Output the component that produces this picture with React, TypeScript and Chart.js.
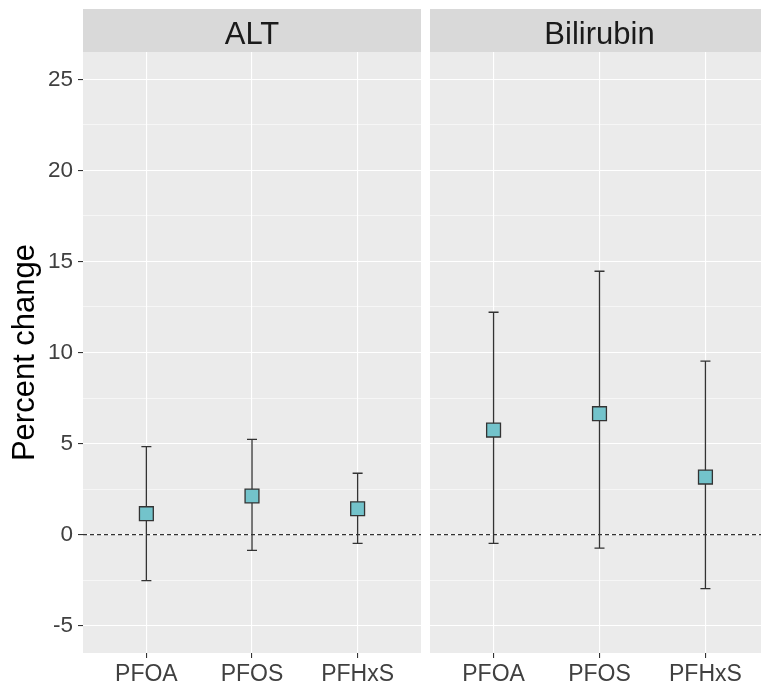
import React, { useEffect, useRef } from "react";
import { Chart, registerables } from "chart.js";

Chart.register(...registerables);

const categories = ["PFOA", "PFOS", "PFHxS"];
const panelLabels = ["ALT", "Bilirubin"];

const altEstimate = [1.15, 2.12, 1.42];
const altLower = [-2.53, -0.86, -0.48];
const altUpper = [4.83, 5.23, 3.37];

const biliEstimate = [5.74, 6.64, 3.16];
const biliLower = [-0.48, -0.74, -2.97];
const biliUpper = [12.21, 14.46, 9.53];

const yTicks = [-5, -2.5, 0, 2.5, 5, 7.5, 10, 12.5, 15, 17.5, 20, 22.5, 25];
const yMin = -6.5;
const yMax = 26.5;
const referenceLine = 0;

const FONT = '"Liberation Sans", Arial, sans-serif';

function makeFacetPlugin(label: string, lower: number[], upper: number[]) {
  return {
    id: "facet",
    beforeDraw(chart: any) {
      const { ctx, chartArea: a } = chart;
      ctx.save();
      ctx.fillStyle = "#EBEBEB";
      ctx.fillRect(a.left, a.top, a.right - a.left, a.bottom - a.top);
      ctx.fillStyle = "#D9D9D9";
      ctx.fillRect(a.left, a.top - 43, a.right - a.left, 43);
      ctx.fillStyle = "#1A1A1A";
      ctx.font = "31px " + FONT;
      ctx.textAlign = "center";
      ctx.textBaseline = "alphabetic";
      ctx.fillText(label, (a.left + a.right) / 2, a.top - 8.5);
      ctx.restore();
    },
    beforeDatasetsDraw(chart: any) {
      const { ctx, chartArea: a, scales } = chart;
      const x = scales.x;
      const y = scales.y;
      ctx.save();
      const y0 = y.getPixelForValue(referenceLine);
      ctx.strokeStyle = "#333333";
      ctx.lineWidth = 1.1;
      ctx.setLineDash([4, 3]);
      ctx.beginPath();
      ctx.moveTo(a.left, y0);
      ctx.lineTo(a.right, y0);
      ctx.stroke();
      ctx.setLineDash([]);
      ctx.lineWidth = 1.3;
      lower.forEach((lo, i) => {
        const px = x.getPixelForValue(i + 1);
        const pl = y.getPixelForValue(lo);
        const pu = y.getPixelForValue(upper[i]);
        ctx.beginPath();
        ctx.moveTo(px, pl);
        ctx.lineTo(px, pu);
        ctx.moveTo(px - 5, pl);
        ctx.lineTo(px + 5, pl);
        ctx.moveTo(px - 5, pu);
        ctx.lineTo(px + 5, pu);
        ctx.stroke();
      });
      ctx.restore();
    },
  };
}

function makeConfig(
  label: string,
  est: number[],
  lower: number[],
  upper: number[],
  showY: boolean
): any {
  return {
    type: "scatter",
    data: {
      datasets: [
        {
          data: est.map((v, i) => ({ x: i + 1, y: v })),
          pointStyle: "rect",
          pointRadius: 9.8,
          pointHoverRadius: 9.8,
          backgroundColor: "#73C3CB",
          borderColor: "#333333",
          borderWidth: 1.3,
        },
      ],
    },
    options: {
      responsive: false,
      animation: false,
      events: [],
      layout: {
        autoPadding: false,
        padding: { top: 52, left: 0, right: showY ? 4 : 0, bottom: 0 },
      },
      plugins: { legend: { display: false }, tooltip: { enabled: false } },
      scales: {
        x: {
          type: "linear",
          min: 0.4,
          max: 3.6,
          afterBuildTicks: (s: any) => {
            s.ticks = categories.map((_, i) => ({ value: i + 1 }));
          },
          afterFit: (s: any) => {
            s.height = 31;
            s.paddingLeft = 0;
            s.paddingRight = 0;
          },
          ticks: {
            callback: (_v: any, i: number) => categories[i],
            font: { family: FONT, size: 23 },
            color: "#404040",
            padding: 3,
            maxRotation: 0,
            autoSkip: false,
          },
          grid: {
            color: "#FFFFFF",
            lineWidth: 1.1,
            tickColor: "#333333",
            tickLength: 5,
          },
          border: { display: false },
        },
        y: {
          type: "linear",
          min: yMin,
          max: yMax,
          afterBuildTicks: (s: any) => {
            s.ticks = yTicks.map((v) => ({ value: v }));
          },
          afterFit: (s: any) => {
            s.width = showY ? 83 : 0;
            s.paddingTop = 0;
            s.paddingBottom = 0;
          },
          ticks: {
            display: showY,
            callback: (v: any) => (v % 5 === 0 ? String(v) : ""),
            font: { family: FONT, size: 22.5 },
            color: "#404040",
            padding: 5,
          },
          grid: {
            color: "#FFFFFF",
            lineWidth: (c: any) => (c.tick && c.tick.value % 5 === 0 ? 1.1 : 0.55),
            tickColor: (c: any) =>
              showY && c.tick && c.tick.value % 5 === 0 ? "#333333" : "rgba(0,0,0,0)",
            tickLength: showY ? 5 : 0,
          },
          border: { display: false },
          title: {
            display: showY,
            text: "Percent change",
            color: "#000000",
            font: { family: FONT, size: 31 },
            padding: { top: 7, bottom: 0 },
          },
        },
      },
    },
    plugins: [makeFacetPlugin(label, lower, upper)],
  };
}

export default function App() {
  const ref1 = useRef<HTMLCanvasElement>(null);
  const ref2 = useRef<HTMLCanvasElement>(null);

  useEffect(() => {
    const c1 = new Chart(
      ref1.current as HTMLCanvasElement,
      makeConfig(panelLabels[0], altEstimate, altLower, altUpper, true)
    );
    const c2 = new Chart(
      ref2.current as HTMLCanvasElement,
      makeConfig(panelLabels[1], biliEstimate, biliLower, biliUpper, false)
    );
    return () => {
      c1.destroy();
      c2.destroy();
    };
  }, []);

  return (
    <div
      style={{
        position: "absolute",
        left: 0,
        top: 0,
        width: 761,
        height: 684,
        overflow: "hidden",
        background: "#FFFFFF",
      }}
    >
      <canvas
        ref={ref1}
        width={425}
        height={684}
        style={{ position: "absolute", left: 0, top: 0, display: "block" }}
      />
      <canvas
        ref={ref2}
        width={339}
        height={684}
        style={{ position: "absolute", left: 430, top: 0, display: "block" }}
      />
    </div>
  );
}
